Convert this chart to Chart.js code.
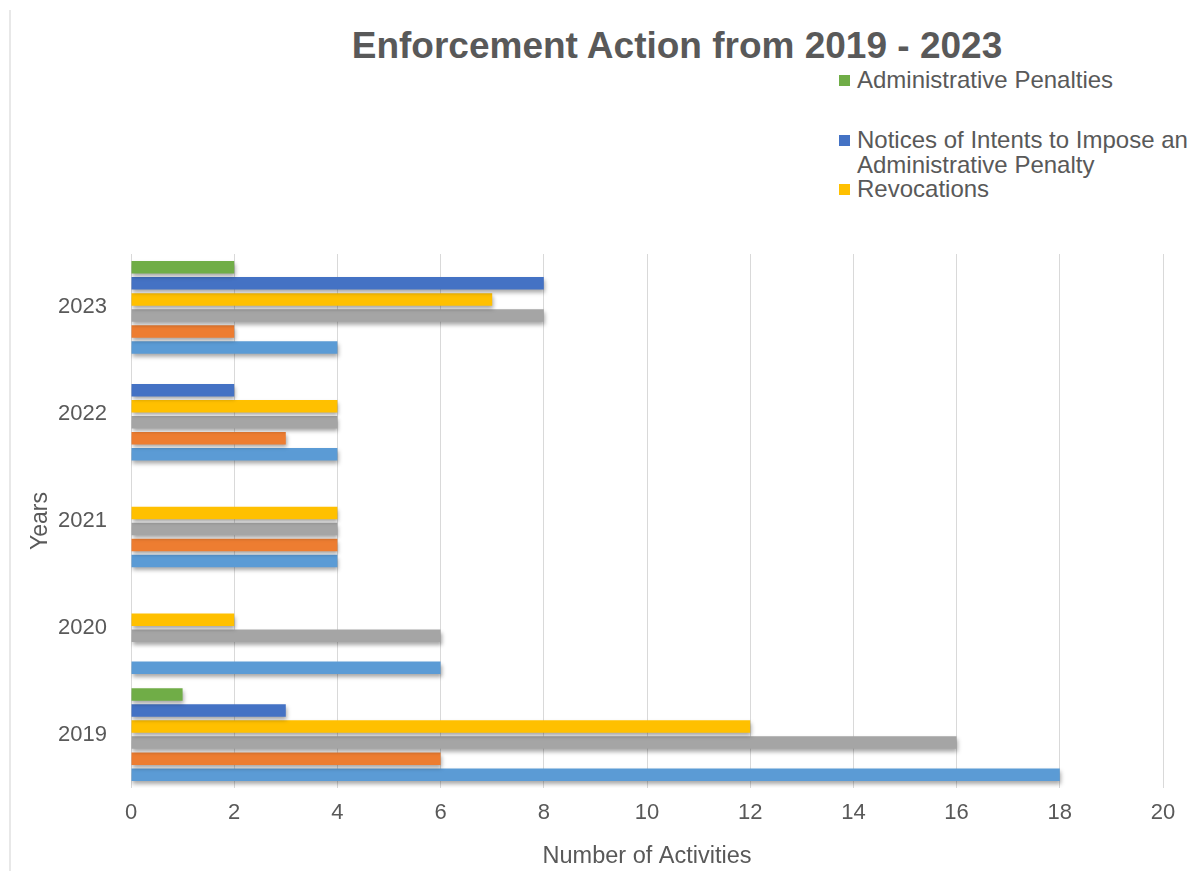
<!DOCTYPE html>
<html>
<head>
<meta charset="utf-8">
<script src="https://cdn.jsdelivr.net/npm/chart.js@4/dist/chart.umd.min.js"></script>
<style>
  html, body { margin: 0; padding: 0; background: #ffffff; overflow: hidden; }
  #wrap { position: relative; width: 1188px; height: 871px; font-family: "Liberation Sans", Arial, sans-serif; color: #595959; }
  #frame { position: absolute; left: 9px; top: 10px; bottom: 0; border-left: 2px solid #e8e8e8; }
  #title { position: absolute; left: 677px; top: 27px; transform: translateX(-50%); font-size: 37px; font-weight: bold; line-height: 1; white-space: nowrap; color: #595959; }
  #legend { position: absolute; left: 839px; top: 0; width: 349px; }
  .item { position: absolute; left: 0; display: flex; align-items: flex-start; }
  .box { width: 11px; height: 11px; margin-top: 7px; margin-right: 7px; flex: none; }
  .lbl { font-size: 24px; line-height: 24.5px; width: 335px; color: #595959; }
  canvas { position: absolute; left: 0; top: 0; }
</style>
</head>
<body>
<div id="wrap">
  <div id="frame"></div>
  <div id="title">Enforcement Action from 2019 - 2023</div>
  <div id="legend"></div>
  <canvas id="c" width="1188" height="871"></canvas>
</div>
<script>
// ---- data ----
const years = ['2019', '2020', '2021', '2022', '2023'];
const administrativePenalties = [1, 0, 0, 0, 2];
const noticesOfIntent = [3, 0, 0, 2, 8];
const revocations = [12, 2, 4, 4, 7];
const seriesGray = [16, 6, 4, 4, 8];
const seriesOrange = [6, 0, 4, 3, 2];
const seriesLightBlue = [18, 6, 4, 4, 4];
const xTicks = [0, 2, 4, 6, 8, 10, 12, 14, 16, 18, 20];
const legendLabels = ['Administrative Penalties', 'Notices of Intents to Impose an Administrative Penalty', 'Revocations'];

const colors = ['#70AD47', '#4472C4', '#FFC000', '#A5A5A5', '#ED7D31', '#5B9BD5'];
const seriesData = [administrativePenalties, noticesOfIntent, revocations, seriesGray, seriesOrange, seriesLightBlue];
const seriesNames = [legendLabels[0], legendLabels[1], legendLabels[2], 'Series 4', 'Series 5', 'Series 6'];

const textColor = '#595959';
const fontFamily = '"Liberation Sans", Arial, sans-serif';

const shadowPlugin = {
  id: 'barShadow',
  beforeDatasetsDraw(chart) {
    const ctx = chart.ctx;
    ctx.save();
    ctx.shadowColor = 'rgba(0,0,0,0.35)';
    ctx.shadowBlur = 4;
    ctx.shadowOffsetX = 1;
    ctx.shadowOffsetY = 3;
  },
  afterDatasetsDraw(chart) {
    chart.ctx.restore();
  }
};

const chart = new Chart(document.getElementById('c'), {
  type: 'bar',
  data: {
    labels: years,
    datasets: seriesData.map((d, i) => ({
      label: seriesNames[i],
      data: d,
      backgroundColor: colors[i],
      borderWidth: 0,
      categoryPercentage: 0.9,
      barPercentage: 0.78
    }))
  },
  options: {
    indexAxis: 'y',
    responsive: false,
    animation: false,
    devicePixelRatio: 1,
    layout: { padding: { top: 254, right: 25, bottom: 0, left: 0 } },
    plugins: {
      legend: { display: false },
      title: { display: false },
      tooltip: { enabled: false }
    },
    scales: {
      x: {
        type: 'linear',
        min: 0,
        max: 20,
        afterBuildTicks(scale) { scale.ticks = xTicks.map(v => ({ value: v })); },
        afterFit(scale) { scale.height = 83; },
        grid: { display: true, color: '#d9d9d9', lineWidth: 1, drawTicks: false },
        border: { display: false },
        ticks: { padding: 12, color: textColor, font: { family: fontFamily, size: 22 } },
        title: { display: true, text: 'Number of Activities', color: textColor, padding: { top: 0, bottom: 0 }, font: { family: fontFamily, size: 23.5 } }
      },
      y: {
        type: 'category',
        reverse: true,
        afterFit(scale) { scale.width = 131; },
        grid: { display: false, drawTicks: false },
        border: { display: false },
        ticks: { padding: 24, color: textColor, font: { family: fontFamily, size: 22 } },
        title: { display: true, text: 'Years', color: textColor, padding: { top: 27, bottom: 0 }, font: { family: fontFamily, size: 23 } }
      }
    }
  },
  plugins: [shadowPlugin]
});

// HTML legend built from the first three datasets
const legendTops = [68, 128, 177];
const legendEl = document.getElementById('legend');
chart.data.datasets.slice(0, 3).forEach((ds, i) => {
  const item = document.createElement('div');
  item.className = 'item';
  item.style.top = legendTops[i] + 'px';
  const box = document.createElement('div');
  box.className = 'box';
  box.style.background = ds.backgroundColor;
  const lbl = document.createElement('div');
  lbl.className = 'lbl';
  lbl.textContent = ds.label;
  item.appendChild(box);
  item.appendChild(lbl);
  legendEl.appendChild(item);
});
</script>
</body>
</html>
